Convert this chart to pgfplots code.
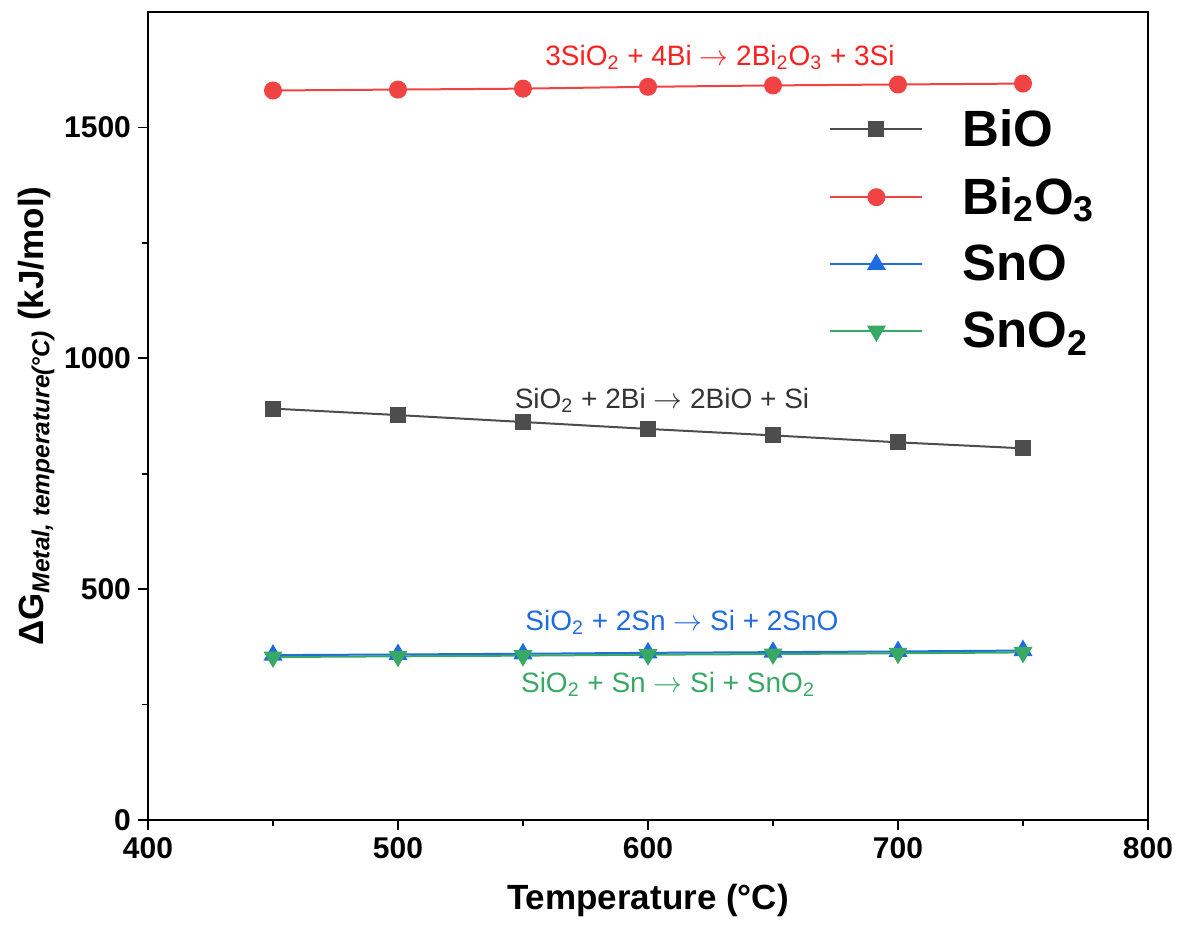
\documentclass[border=0pt]{standalone}
\usepackage{pgfplots}
\pgfplotsset{compat=1.18}
\usepackage{fontspec}
\setmainfont{Liberation Sans}
\definecolor{cBiO}{HTML}{4D4D4D}
\definecolor{cBiOt}{HTML}{333333}
\definecolor{cBi}{HTML}{F04343}
\definecolor{cBit}{HTML}{FF1F1F}
\definecolor{cSnO}{HTML}{1F6BE0}
\definecolor{cSnO2}{HTML}{38A865}
\begin{document}
\begin{tikzpicture}
\useasboundingbox (-74pt,-56pt) rectangle (515.5pt,410pt);
\begin{axis}[
  at={(0,0)}, anchor=south west,
  scale only axis, width=500pt, height=404pt,
  xmin=400, xmax=800, ymin=0, ymax=1750,
  xtick={400,500,...,800}, ytick={0,500,1000,1500},
  minor xtick={450,550,650,750}, minor ytick={250,750,1250},
  tick pos=left, tick align=outside,
  major tick length=5pt, minor tick length=3pt,
  every tick/.style={black, line width=0.9pt},
  axis line style={line width=0.9pt},
  /pgf/number format/assume math mode=true,
  /pgf/number format/set thousands separator={},
  tick label style={font=\fontsize{15}{18}\selectfont\bfseries},
  xlabel={Temperature (°C)},
  ylabel={ΔG\textsubscript{\itshape Metal, temperature(°C)} (kJ/mol)},
  label style={font=\fontsize{17.5}{21}\selectfont\bfseries},
  xlabel style={yshift=-6pt},
  ylabel style={yshift=-2pt},
  legend style={draw=none, fill=none, at={(0.675,0.89)}, anchor=north west,
    font=\fontsize{25.5}{30}\selectfont\bfseries, row sep=10pt,
    /tikz/every odd column/.append style={column sep=17.5pt}},
  legend cell align=left,
  legend image code/.code={\draw[mark repeat=2,mark phase=2] plot coordinates {(0pt,0pt) (23pt,0pt) (46pt,0pt)};},
]
\addplot[cBiO, line width=1pt, mark=square*, mark size=3.5pt, mark options={solid, fill=cBiO}]
  coordinates {(450,891) (500,877) (550,862) (600,847) (650,833) (700,818) (750,805)};
\addlegendentry{BiO}
\addplot[cBi, line width=1pt, mark=*, mark size=4pt, mark options={solid, fill=cBi}]
  coordinates {(450,1580) (500,1582) (550,1584) (600,1588) (650,1591) (700,1593) (750,1595)};
\addlegendentry{Bi\textsubscript{2}O\textsubscript{3}}
\addplot[cSnO, line width=1pt, mark=triangle*, mark size=4.5pt, mark options={solid, fill=cSnO}]
  coordinates {(450,357) (500,358.5) (550,360) (600,362) (650,363.5) (700,365) (750,367)};
\addlegendentry{SnO}
\addplot[cSnO2, line width=1pt, mark=triangle*, mark size=4.5pt, mark options={solid, fill=cSnO2, rotate=180}]
  coordinates {(450,353) (500,354.5) (550,356) (600,358) (650,359.5) (700,361) (750,363)};
\addlegendentry{SnO\textsubscript{2}}
\node[cBit, font=\fontsize{14}{17}\selectfont] at (axis cs:628.8,1651) {3SiO\textsubscript{2} + 4Bi $\rightarrow$ 2Bi\textsubscript{2}O\textsubscript{3} + 3Si};
\node[cBiOt, font=\fontsize{14}{17}\selectfont] at (axis cs:605.6,909) {SiO\textsubscript{2} + 2Bi $\rightarrow$ 2BiO + Si};
\node[cSnO, font=\fontsize{14}{17}\selectfont] at (axis cs:613.6,428) {SiO\textsubscript{2} + 2Sn $\rightarrow$ Si + 2SnO};
\node[cSnO2, font=\fontsize{14}{17}\selectfont] at (axis cs:608,294) {SiO\textsubscript{2} + Sn $\rightarrow$ Si + SnO\textsubscript{2}};
\end{axis}
\end{tikzpicture}
\end{document}
